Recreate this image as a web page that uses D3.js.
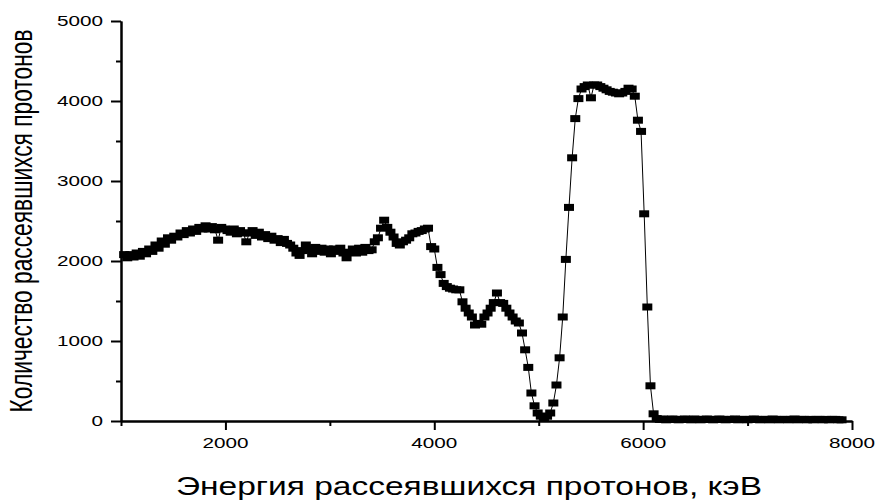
<!DOCTYPE html>
<html>
<head>
<meta charset="utf-8">
<script src="https://cdn.jsdelivr.net/npm/d3@7/dist/d3.min.js"></script>
<style>
  html, body { margin: 0; padding: 0; background: #fff; }
  svg { display: block; }
  text { font-family: "Liberation Sans", Arial, sans-serif; fill: #000; }
</style>
</head>
<body>
<svg id="chart" width="878" height="503"></svg>
<script>
// Proton energy channels, keV
const energy = [
  1030,1060,1090,1120,1150,1180,1210,1240,1270,1300,
  1330,1360,1390,1420,1450,1480,1510,1540,1570,1600,
  1630,1660,1690,1720,1750,1780,1810,1840,1870,1900,
  1930,1960,1990,2020,2050,2080,2110,2140,2170,2200,
  2230,2260,2290,2320,2350,2380,2410,2440,2470,2500,
  2530,2560,2590,2620,2650,2680,2710,2740,2770,2800,
  2830,2860,2890,2920,2950,2980,3010,3040,3070,3100,
  3130,3160,3190,3220,3250,3280,3310,3340,3370,3400,
  3430,3460,3490,3520,3550,3580,3610,3640,3670,3700,
  3730,3760,3790,3820,3850,3880,3910,3940,3970,4000,
  4030,4060,4090,4120,4150,4180,4210,4240,4270,4300,
  4330,4360,4390,4420,4450,4480,4510,4540,4570,4600,
  4630,4660,4690,4720,4750,4780,4810,4840,4870,4900,
  4930,4960,4990,5020,5050,5080,5110,5140,5170,5200,
  5230,5260,5290,5320,5350,5380,5410,5440,5470,5500,
  5530,5560,5590,5620,5650,5680,5710,5740,5770,5800,
  5830,5860,5890,5920,5950,5980,6010,6040,6070,6100,
  6130,6160,6190,6220,6250,6280,6310,6340,6370,6400,
  6430,6460,6490,6520,6550,6580,6610,6640,6670,6700,
  6730,6760,6790,6820,6850,6880,6910,6940,6970,7000,
  7030,7060,7090,7120,7150,7180,7210,7240,7270,7300,
  7330,7360,7390,7420,7450,7480,7510,7540,7570,7600,
  7630,7660,7690,7720,7750,7780,7810,7840,7870,7900
];

// Scattered proton counts per channel
const counts = [
  2080,2040,2080,2050,2100,2060,2120,2090,2150,2120,
  2200,2160,2250,2210,2290,2260,2310,2300,2350,2330,
  2380,2350,2400,2370,2420,2400,2440,2400,2430,2390,
  2260,2420,2400,2380,2360,2400,2340,2380,2350,2240,
  2350,2380,2320,2360,2300,2330,2280,2310,2260,2280,
  2230,2270,2220,2200,2160,2100,2070,2130,2200,2150,
  2090,2170,2120,2160,2110,2150,2090,2150,2120,2160,
  2100,2040,2110,2150,2100,2160,2110,2170,2130,2140,
  2240,2290,2410,2510,2420,2360,2300,2220,2200,2240,
  2260,2290,2340,2350,2370,2380,2400,2410,2180,2150,
  1920,1830,1720,1680,1660,1650,1640,1640,1490,1410,
  1350,1300,1200,1220,1210,1300,1350,1410,1480,1600,
  1480,1470,1410,1350,1300,1250,1225,1100,890,670,
  350,190,100,60,40,60,100,225,450,790,
  1300,2020,2670,3290,3780,4030,4150,4180,4200,4040,
  4200,4200,4180,4160,4140,4120,4110,4100,4090,4100,
  4120,4160,4150,4060,3760,3620,2590,1425,440,90,
  30,20,25,15,20,25,20,15,20,25,
  20,15,25,20,15,20,25,20,15,20,
  25,20,15,20,20,25,15,20,20,15,
  20,25,20,15,20,20,15,25,20,15,
  20,20,15,20,25,15,20,20,15,20,
  15,20,20,15,20,15,20,20,15,15
];

const xTicks = [2000, 4000, 6000, 8000];
const xMinorTicks = [1000, 3000, 5000, 7000];
const yTicks = [0, 1000, 2000, 3000, 4000, 5000];
const yMinorTicks = [500, 1500, 2500, 3500, 4500];

const xTitle = "Энергия рассеявшихся протонов, кэВ";
const yTitle = "Количество рассеявшихся протонов";

const svg = d3.select("#chart");
svg.append("rect").attr("width", 878).attr("height", 503).attr("fill", "#fff");

const x = d3.scaleLinear().domain([1000, 8000]).range([121, 852]);
const y = d3.scaleLinear().domain([0, 5000]).range([421, 21]);

const labelStretch = 1.38;

function styleAxis(g) {
  g.selectAll("path.domain").attr("stroke", "#000").attr("stroke-width", 2);
  g.selectAll(".tick line").attr("stroke", "#000").attr("stroke-width", 2);
  g.selectAll(".tick text").remove();
}

// X axis: minor then major ticks
svg.append("g")
  .attr("transform", `translate(0,${y(0)})`)
  .call(d3.axisBottom(x).tickValues(xMinorTicks).tickSize(5).tickSizeOuter(0).tickFormat(""))
  .call(styleAxis);
svg.append("g")
  .attr("transform", `translate(0,${y(0)})`)
  .call(d3.axisBottom(x).tickValues(xTicks).tickSize(9).tickSizeOuter(0).tickFormat(""))
  .call(styleAxis);

// Y axis: minor then major ticks
svg.append("g")
  .attr("transform", `translate(${x(1000)},0)`)
  .call(d3.axisLeft(y).tickValues(yMinorTicks).tickSize(5).tickSizeOuter(0).tickFormat(""))
  .call(styleAxis);
svg.append("g")
  .attr("transform", `translate(${x(1000)},0)`)
  .call(d3.axisLeft(y).tickValues(yTicks).tickSize(10).tickSizeOuter(0).tickFormat(""))
  .call(styleAxis);

// Tick labels
svg.append("g").selectAll("text")
  .data(yTicks)
  .join("text")
  .attr("transform", d => `translate(${x(1000) - 18},${y(d)}) scale(${labelStretch},1)`)
  .attr("dy", "0.36em")
  .attr("text-anchor", "end")
  .attr("font-size", 15)
  .text(d => d);

svg.append("g").selectAll("text")
  .data(xTicks)
  .join("text")
  .attr("transform", d => `translate(${x(d)},${y(0) + 27}) scale(${labelStretch},1)`)
  .attr("text-anchor", "middle")
  .attr("font-size", 15)
  .text(d => d);

// Axis titles
svg.append("text")
  .attr("x", 469)
  .attr("y", 495)
  .attr("text-anchor", "middle")
  .attr("font-size", 25)
  .attr("textLength", 586)
  .attr("lengthAdjust", "spacingAndGlyphs")
  .text(xTitle);

svg.append("text")
  .attr("transform", `translate(32,221) rotate(-90) scale(1,${labelStretch})`)
  .attr("text-anchor", "middle")
  .attr("font-size", 23)
  .attr("textLength", 383)
  .attr("lengthAdjust", "spacingAndGlyphs")
  .text(yTitle);

// Spectrum: connecting line and square markers
const data = energy.map((e, i) => ({ e, c: counts[i] }));

svg.append("path")
  .datum(data)
  .attr("fill", "none")
  .attr("stroke", "#000")
  .attr("stroke-width", 1)
  .attr("d", d3.line().x(d => x(d.e)).y(d => y(d.c)));

svg.append("g").selectAll("rect")
  .data(data)
  .join("rect")
  .attr("x", d => x(d.e) - 5)
  .attr("y", d => y(d.c) - 3.5)
  .attr("width", 10)
  .attr("height", 7)
  .attr("fill", "#000");
</script>
</body>
</html>
